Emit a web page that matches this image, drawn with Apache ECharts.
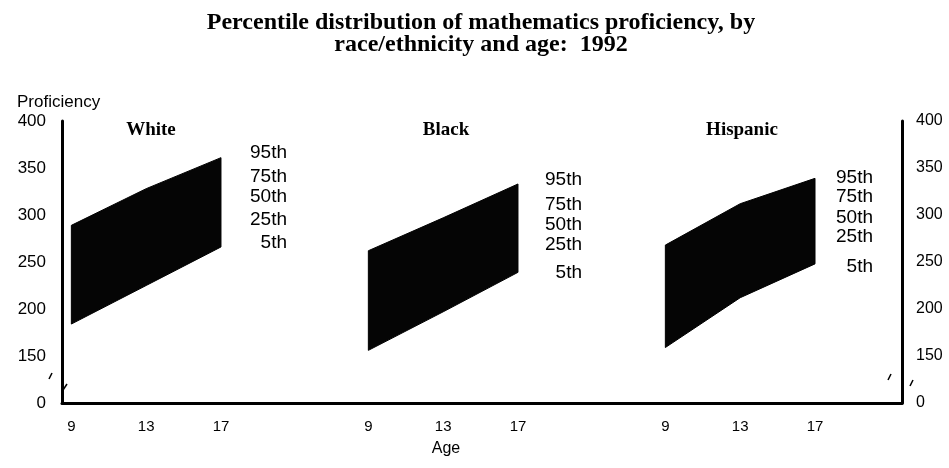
<!DOCTYPE html>
<html>
<head>
<meta charset="utf-8">
<script src="https://cdn.jsdelivr.net/npm/echarts@6/dist/echarts.min.js"></script>
<style>
  html, body { margin: 0; padding: 0; background: #fff; }
  #chart { width: 949px; height: 468px; }
</style>
</head>
<body>
<div id="chart"></div>
<script>
// ages on the x axis of each panel
var ages = [9, 13, 17]
var groups = ['White', 'Black', 'Hispanic']

// 5th and 95th percentile proficiency at ages 9, 13, 17
var white5 = [184, 225, 266]
var white95 = [289, 328, 361]
var black5 = [156, 197, 239]
var black95 = [262, 297, 333]
var hispanic5 = [159, 212, 248]
var hispanic95 = [268, 312, 339]

var percentiles = ['95th', '75th', '50th', '25th', '5th']

// y axis: broken scale, bottom tick shows 0
var yTicks = [100, 150, 200, 250, 300, 350, 400]
var yTickLabels = ['0', '150', '200', '250', '300', '350', '400']

var lows = [white5, black5, hispanic5]
var highs = [white95, black95, hispanic95]

var serif = '"Liberation Serif", "DejaVu Serif", serif'
var sans = '"Liberation Sans", Arial, sans-serif'

function yLabel(v) {
  var i = yTicks.indexOf(v)
  return i >= 0 ? yTickLabels[i] : ''
}

var grids = [
  { left: 62, width: 297, top: 121, bottom: 65 },
  { left: 359, width: 297, top: 121, bottom: 65 },
  { left: 656, width: 246, top: 121, bottom: 65 }
]
var xMax = [24.38, 24.38, 21.65]

// band between 5th and 95th percentile, drawn as one polygon
function bandRenderer(lo, hi) {
  return function (params, api) {
    if (params.dataIndex !== 0) return
    var pts = []
    for (let i = 0; i < ages.length; i++) pts.push(api.coord([ages[i], hi[i]]))
    for (let i = ages.length - 1; i >= 0; i--) pts.push(api.coord([ages[i], lo[i]]))
    return {
      type: 'polygon',
      shape: { points: pts },
      style: { fill: '#050505', stroke: '#000', lineWidth: 1 }
    }
  }
}

var xAxes = []
var yAxes = []
var series = []
for (let g = 0; g < 3; g++) {
  xAxes.push({
    type: 'value',
    gridIndex: g,
    min: 8.5,
    max: xMax[g],
    axisLine: { show: true, onZero: false, lineStyle: { color: '#000', width: 3 } },
    axisTick: { show: false },
    splitLine: { show: false },
    axisLabel: {
      customValues: ages,
      color: '#000',
      fontFamily: sans,
      fontSize: 15,
      margin: 16
    }
  })
  yAxes.push({
    type: 'value',
    gridIndex: g,
    min: 100,
    max: 400,
    interval: 50,
    position: g === 2 ? 'right' : 'left',
    axisLine: { show: g !== 1, lineStyle: { color: '#000', width: 3 } },
    axisTick: { show: false },
    splitLine: { show: false },
    axisLabel: {
      show: g !== 1,
      formatter: yLabel,
      color: '#000',
      fontFamily: sans,
      fontSize: g === 0 ? 17 : 16,
      margin: g === 0 ? 16 : 14
    }
  })
  let lo = lows[g]
  let hi = highs[g]
  series.push({
    name: groups[g],
    type: 'custom',
    xAxisIndex: g,
    yAxisIndex: g,
    renderItem: bandRenderer(lo, hi),
    encode: { x: 0, y: [1, 2] },
    data: ages.map(function (a, i) { return [a, lo[i], hi[i]] })
  })
}

// percentile legend beside each band
var pctPos = [
  { right: 287, ys: [153, 177, 197, 220, 243] },
  { right: 582, ys: [180, 205, 225, 245, 273] },
  { right: 873, ys: [178, 197, 218, 237, 267] }
]
var graphics = []
pctPos.forEach(function (p) {
  percentiles.forEach(function (t, i) {
    graphics.push({
      type: 'text',
      x: p.right,
      y: p.ys[i],
      style: {
        text: t,
        align: 'right',
        verticalAlign: 'middle',
        fill: '#000',
        font: '19px ' + sans
      }
    })
  })
})

// small break marks beside both y axes
var breakMarks = [
  [[49, 379], [52, 373]], [[63, 390], [67, 384]],
  [[888, 380], [891, 374]], [[910, 386], [913, 380]]
]
breakMarks.forEach(function (m) {
  graphics.push({
    type: 'polyline',
    shape: { points: m },
    style: { stroke: '#000', lineWidth: 1.5 }
  })
})

var groupLabelX = [146, 441, 737]

var option = {
  animation: false,
  backgroundColor: '#fff',
  title: [
    {
      text: 'Percentile distribution of mathematics proficiency, by\nrace/ethnicity and age:  1992',
      left: 476,
      top: 7,
      textAlign: 'center',
      textStyle: { fontFamily: serif, fontWeight: 'bold', fontSize: 24, lineHeight: 22, color: '#000' }
    },
    {
      text: 'Proficiency',
      left: 12,
      top: 89,
      textStyle: { fontFamily: sans, fontWeight: 'normal', fontSize: 17, color: '#000' }
    },
    {
      text: 'Age',
      left: 441,
      top: 436,
      textAlign: 'center',
      textStyle: { fontFamily: sans, fontWeight: 'normal', fontSize: 16, color: '#000' }
    }
  ].concat(groups.map(function (name, i) {
    return {
      text: name,
      left: groupLabelX[i],
      top: 116,
      textAlign: 'center',
      textStyle: { fontFamily: serif, fontWeight: 'bold', fontSize: 19, color: '#000' }
    }
  })),
  grid: grids,
  xAxis: xAxes,
  yAxis: yAxes,
  series: series,
  graphic: graphics
}

var myChart = echarts.init(document.getElementById('chart'))
myChart.setOption(option)
</script>
</body>
</html>
